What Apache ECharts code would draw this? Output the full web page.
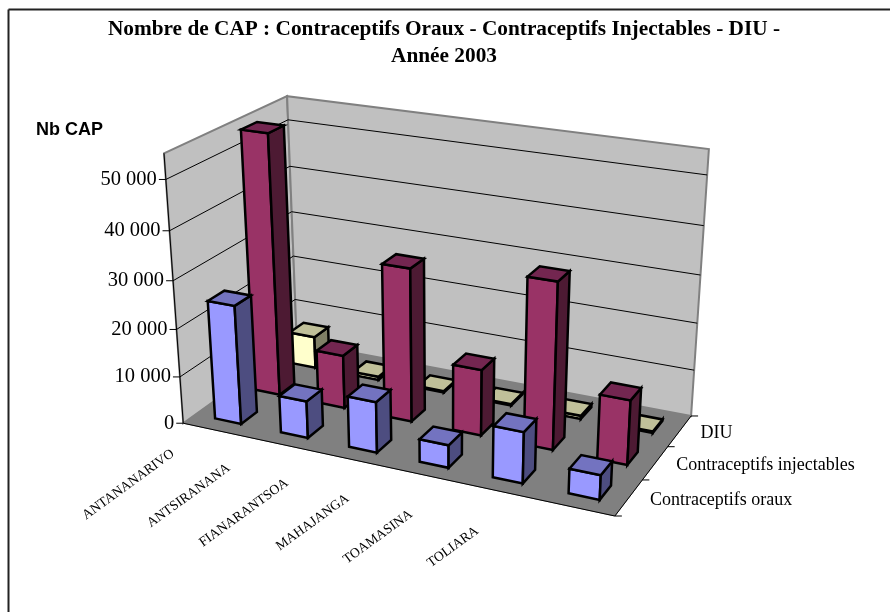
<!DOCTYPE html>
<html><head><meta charset="utf-8">
<style>html,body{margin:0;padding:0;background:#fff}#c{width:890px;height:612px}</style>
<script src="https://cdn.jsdelivr.net/npm/echarts@6/dist/echarts.min.js"></script>
</head><body><div id="c"></div>
<script>
const categories = ['ANTANANARIVO','ANTSIRANANA','FIANARANTSOA','MAHAJANGA','TOAMASINA','TOLIARA'];
const seriesNames = ['Contraceptifs oraux','Contraceptifs injectables','DIU'];
const oraux = [25000,7800,10600,4700,10500,5000];
const injectables = [55000,11400,32200,13900,34400,13400];
const diu = [7000,700,300,300,700,300];
const yTicks = [0,10000,20000,30000,40000,50000];
const yMax = 55000;
const tickLabels = ['0','10 000','20 000','30 000','40 000','50 000'];
const titleText = 'Nombre de CAP : Contraceptifs Oraux - Contraceptifs Injectables - DIU -\nAnnée 2003';
const yName = 'Nb CAP';

// Camera calibration: box corner (u, depth, height) -> page pixel
const calib = [
 [0,0,0,183,423],[1,0,0,615,516],[0,1,0,297,342],[1,1,0,691,416],
 [0,0,1,164,153],[0,1,1,287,96],[1,1,1,709,149],
 [0,0,50/55,166,180],[1,1,50/55,707,175]
];
function solve(A,b){const n=b.length;for(let i=0;i<n;i++){let p=i;for(let r=i+1;r<n;r++)if(Math.abs(A[r][i])>Math.abs(A[p][i]))p=r;
 [A[i],A[p]]=[A[p],A[i]];[b[i],b[p]]=[b[p],b[i]];
 for(let r=i+1;r<n;r++){const f=A[r][i]/A[i][i];for(let c=i;c<n;c++)A[r][c]-=f*A[i][c];b[r]-=f*b[i];}}
 const x=new Array(n);for(let i=n-1;i>=0;i--){let s=b[i];for(let c=i+1;c<n;c++)s-=A[i][c]*x[c];x[i]=s/A[i][i];}return x;}
const M=(function(){const rows=[],rhs=[];
 calib.forEach(([u,v,w,x,y])=>{rows.push([u,v,w,1,0,0,0,0,-x*u,-x*v,-x*w]);rhs.push(x);rows.push([0,0,0,0,u,v,w,1,-y*u,-y*v,-y*w]);rhs.push(y);});
 const n=11,N=[],B=[];for(let i=0;i<n;i++){N.push(new Array(n).fill(0));B.push(0);}
 rows.forEach((r,k)=>{for(let i=0;i<n;i++){B[i]+=r[i]*rhs[k];for(let j=0;j<n;j++)N[i][j]+=r[i]*r[j];}});
 return solve(N,B);})();
function proj(u,v,w){const d=M[8]*u+M[9]*v+M[10]*w+1;return [(M[0]*u+M[1]*v+M[2]*w+M[3])/d,(M[4]*u+M[5]*v+M[6]*w+M[7])/d];}

const grid={left:100,top:100,width:600,height:400};
function norm(api,i,val){const p=api.coord([i,val]);return [(p[0]-grid.left)/grid.width,(grid.top+grid.height-p[1])/grid.height];}
function poly(pts,fill,stroke,lw){return {type:'polygon',shape:{points:pts},style:{fill:fill,stroke:stroke,lineWidth:lw,lineJoin:'miter'}};}
function line(a,b,c,lw){return {type:'line',shape:{x1:a[0],y1:a[1],x2:b[0],y2:b[1]},style:{stroke:c,lineWidth:lw,fill:null}};}
function txt(t,x,y,font,align,rot){return {type:'text',x:x,y:y,rotation:rot||0,style:{text:t,font:font,fill:'#000',align:align,verticalAlign:'middle'}};}

const serif='"Liberation Serif"';
function renderFrame(p,api){
 const c=[];
 const A=proj(0,0,0),B=proj(1,0,0),C=proj(0,1,0),D=proj(1,1,0),At=proj(0,0,1),Ct=proj(0,1,1),Dt=proj(1,1,1);
 c.push(line([8.5,612],[8.5,9.5],'#222',2),line([8.5,9.5],[890,9.5],'#222',2));
 c.push(poly([A,B,D,C],'#808080','#808080',1));
 c.push(poly([A,At,Ct,C],'#C0C0C0','#808080',2));
 c.push(poly([C,Ct,Dt,D],'#C0C0C0','#808080',2));
 yTicks.forEach((t,i)=>{
  const w=norm(api,0,t)[1];
  const a=proj(0,0,w),b=proj(0,1,w),d=proj(1,1,w);
  if(t>0){c.push(line(a,b,'#000',1),line(b,d,'#000',1));}
  c.push(line([a[0]-7,a[1]],a,'#000',1));
  c.push(txt(tickLabels[i],a[0]-9,a[1],'20.5px '+serif,'right'));
 });
 c.push(line(A,At,'#000',1),line(A,B,'#000',1),line(B,D,'#000',1));
 [0,1/3,2/3,1].forEach(v=>{const q=proj(1,v,0);c.push(line(q,[q[0]+7,q[1]],'#000',1));});
 seriesNames.forEach((s,k)=>{const q=proj(1,(k+.5)/3,0);c.push(txt(s,q[0]+21,q[1]+2.5,'18px '+serif,'left'));});
 categories.forEach((s,i)=>{const u=norm(api,i,0)[0];const q=proj(u,0,0);
  c.push(txt(s,q[0]-43-11*i,q[1]+22,'13.7px '+serif,'right',36*Math.PI/180));});
 c.push(txt(yName,36,130,'bold 18px "Liberation Sans"','left'));
 return {type:'group',children:c};
}
const barFrac=0.4;
const colors=[['#9999FF','#7373C0','#4D4D80'],['#993366','#732650','#4D1A33'],['#FFFFCC','#C0C099','#808066']];
function renderBar(k){return function(p,api){
 const i=api.value(0),val=api.value(1);
 const n=norm(api,i,val),u=n[0],w=n[1];
 const du=barFrac/categories.length/2,dv=barFrac/seriesNames.length/2,v=(k+.5)/seriesNames.length;
 const P=(a,b,h)=>proj(u+a*du,v+b*dv,h);
 const col=colors[k],lw=2.5;
 return {type:'group',children:[
  poly([P(-1,-1,0),P(1,-1,0),P(1,-1,w),P(-1,-1,w)],col[0],'#000',lw),
  poly([P(1,-1,0),P(1,1,0),P(1,1,w),P(1,-1,w)],col[2],'#000',lw),
  poly([P(-1,-1,w),P(1,-1,w),P(1,1,w),P(-1,1,w)],col[1],'#000',lw)
 ]};
};}
const rows=[oraux,injectables,diu];
const series=[{type:'custom',name:'frame',coordinateSystem:'cartesian2d',data:[[categories[0],0]],renderItem:renderFrame,z:1,silent:true,clip:false}];
[2,1,0].forEach(k=>{series.push({type:'custom',name:seriesNames[k],coordinateSystem:'cartesian2d',
 data:rows[k].map((val,i)=>[i,val]),renderItem:renderBar(k),z:5-k,silent:true,clip:false,encode:{x:0,y:1}});});
const chart=echarts.init(document.getElementById('c'),null,{renderer:'canvas'});
chart.setOption({animation:false,backgroundColor:'#fff',
 title:{text:titleText,left:439,top:11,textAlign:'center',textStyle:{fontFamily:serif,fontWeight:'bold',fontSize:21.3,lineHeight:27,color:'#000'}},
 grid:grid,
 xAxis:{type:'category',data:categories,show:false},
 yAxis:{type:'value',min:0,max:yMax,show:false},
 series:series});
</script></body></html>
